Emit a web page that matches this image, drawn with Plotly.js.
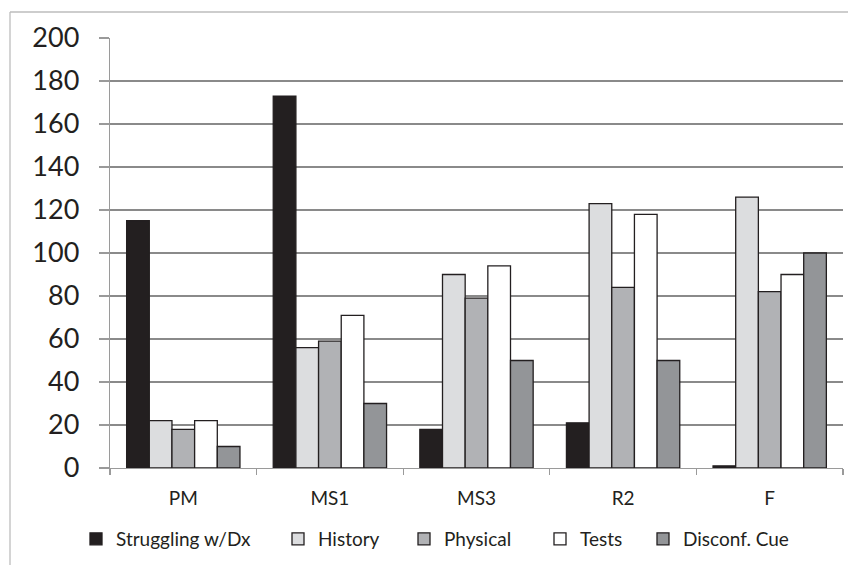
<!DOCTYPE html>
<html>
<head>
<meta charset="utf-8">
<script src="https://cdn.plot.ly/plotly-3.0.1.min.js"></script>
<style>
  html, body { margin: 0; padding: 0; background: #ffffff; }
  #chart { width: 848px; height: 565px; }
</style>
</head>
<body>
<div id="chart"></div>
<script>
// ---- data ----
var categories = ["PM", "MS1", "MS3", "R2", "F"];
var seriesNames = ["Struggling w/Dx", "History", "Physical", "Tests", "Disconf. Cue"];
var strugglingVals = [115, 173, 18, 21, 1];
var historyVals    = [22, 56, 90, 123, 126];
var physicalVals   = [18, 59, 79, 84, 82];
var testsVals      = [22, 71, 94, 118, 90];
var disconfVals    = [10, 30, 50, 50, 100];
var yTicks         = [0, 20, 40, 60, 80, 100, 120, 140, 160, 180, 200];

// ---- styles ----
var colors = ["#231f20", "#dcdddf", "#b1b2b5", "#ffffff", "#939598"];
var legendLeftPx = [76, 278, 404, 540, 643];
var seriesValues = [strugglingVals, historyVals, physicalVals, testsVals, disconfVals];

var W = 848, H = 565;
var mL = 110, mR = 5, mT = 38, mB = 97;
var plotW = W - mL - mR, plotH = H - mT - mB;
function px2paperX(px) { return (px - mL) / plotW; }
function px2paperY(py) { return (H - mB - py) / plotH; }

var FONT = "Lato, 'Open Sans', sans-serif";
var traces = [];
var layout = {
  width: W, height: H,
  margin: {l: mL, r: mR, t: mT, b: mB, pad: 0},
  paper_bgcolor: "#ffffff",
  plot_bgcolor: "#ffffff",
  barmode: "group",
  bargap: 0.227,
  bargroupgap: 0,
  font: {family: FONT, color: "#231f20"},
  xaxis: {
    type: "category",
    categoryorder: "array",
    categoryarray: categories,
    showline: true, linecolor: "#9a9a9a", linewidth: 1.3,
    ticks: "outside", tickson: "boundaries", ticklen: 6, tickcolor: "#9a9a9a", tickwidth: 1.3,
    tickfont: {size: 19, family: FONT, color: "#231f20"},
    ticklabelstandoff: 13,
    showgrid: false, zeroline: false, fixedrange: true
  },
  yaxis: {
    range: [0, 200],
    tickmode: "array", tickvals: yTicks, ticktext: yTicks.map(String),
    showline: true, linecolor: "#9a9a9a", linewidth: 1.3,
    ticks: "outside", ticklen: 10, tickcolor: "#9a9a9a", tickwidth: 1.3,
    tickfont: {size: 27, family: FONT, color: "#231f20"},
    ticklabelstandoff: 14,
    showgrid: true, gridcolor: "#8a8a8a", gridwidth: 1.3,
    zeroline: false, fixedrange: true
  },
  showlegend: true,
  shapes: [
    {type: "line", xref: "paper", yref: "paper",
     x0: px2paperX(10), x1: px2paperX(860), y0: px2paperY(12), y1: px2paperY(12),
     line: {color: "#bdbdbd", width: 1.3}},
    {type: "line", xref: "paper", yref: "paper",
     x0: px2paperX(10), x1: px2paperX(10), y0: px2paperY(12), y1: px2paperY(580),
     line: {color: "#bdbdbd", width: 1.3}}
  ]
};

for (var i = 0; i < seriesNames.length; i++) {
  var lg = i === 0 ? "legend" : "legend" + (i + 1);
  traces.push({
    type: "bar",
    name: seriesNames[i],
    x: categories,
    y: seriesValues[i],
    legend: lg,
    marker: {color: colors[i], line: {color: "#231f20", width: 1.3}},
    hoverinfo: "x+y+name"
  });
  layout[lg] = {
    x: px2paperX(legendLeftPx[i]), xanchor: "left",
    y: px2paperY(539), yanchor: "middle",
    orientation: "h",
    bgcolor: "rgba(0,0,0,0)", borderwidth: 0,
    font: {size: 19, family: FONT, color: "#231f20"},
    itemwidth: 30
  };
}

Plotly.newPlot("chart", traces, layout, {displayModeBar: false, staticPlot: true});
</script>
</body>
</html>
